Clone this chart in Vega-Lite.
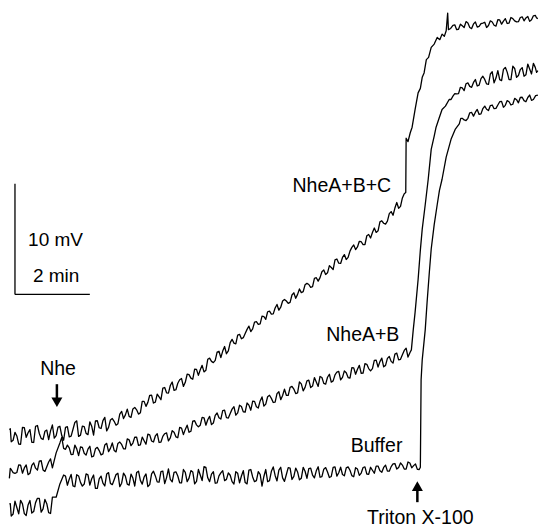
{
  "$schema": "https://vega.github.io/schema/vega-lite/v6.json",
  "width": 539,
  "height": 528,
  "autosize": {"type": "fit", "contains": "padding"},
  "padding": 0,
  "background": "white",
  "config": {"view": {"stroke": null}, "font": "Liberation Sans"},
  "datasets": {
    "traces": [
      {"s":"C","t":-0.15,"v":-12.2},{"s":"C","t":-0.1,"v":-13.3},{"s":"C","t":0,"v":-12.45},{"s":"C","t":0.1,"v":-13.5},{"s":"C","t":0.2,"v":-12.0},{"s":"C","t":0.3,"v":-12.9},{"s":"C","t":0.4,"v":-12.2},{"s":"C","t":0.5,"v":-13.36},{"s":"C","t":0.6,"v":-11.83},{"s":"C","t":0.7,"v":-12.99},{"s":"C","t":0.8,"v":-12.35},{"s":"C","t":0.9,"v":-13.11},{"s":"C","t":1.0,"v":-11.78},{"s":"C","t":1.1,"v":-12.74},{"s":"C","t":1.2,"v":-11.9},{"s":"C","t":1.3,"v":-13.16},{"s":"C","t":1.4,"v":-11.93},{"s":"C","t":1.5,"v":-12.79},{"s":"C","t":1.6,"v":-11.55},{"s":"C","t":1.7,"v":-12.81},{"s":"C","t":1.8,"v":-11.88},{"s":"C","t":1.9,"v":-12.54},{"s":"C","t":2.0,"v":-11.5},{"s":"C","t":2.1,"v":-12.7},{"s":"C","t":2.2,"v":-11.4},{"s":"C","t":2.3,"v":-12.1},{"s":"C","t":2.4,"v":-11.1},{"s":"C","t":2.5,"v":-12.0},{"s":"C","t":2.6,"v":-11.2},{"s":"C","t":2.7,"v":-11.8},{"s":"C","t":2.8,"v":-10.8},{"s":"C","t":2.9,"v":-11.2},{"s":"C","t":3.0,"v":-10.35},{"s":"C","t":3.1,"v":-11.1},{"s":"C","t":3.2,"v":-10.2},{"s":"C","t":3.3,"v":-10.8},{"s":"C","t":3.4,"v":-9.65},{"s":"C","t":3.5,"v":-10.1},{"s":"C","t":3.6,"v":-9.1},{"s":"C","t":3.7,"v":-9.8},{"s":"C","t":3.8,"v":-9.0},{"s":"C","t":3.9,"v":-9.5},{"s":"C","t":4.0,"v":-8.4},{"s":"C","t":4.1,"v":-8.9},{"s":"C","t":4.2,"v":-7.9},{"s":"C","t":4.3,"v":-8.6},{"s":"C","t":4.4,"v":-7.7},{"s":"C","t":4.5,"v":-8.3},{"s":"C","t":4.6,"v":-7.2},{"s":"C","t":4.7,"v":-7.55},{"s":"C","t":4.8,"v":-6.75},{"s":"C","t":4.9,"v":-7.3},{"s":"C","t":5.0,"v":-6.4},{"s":"C","t":5.1,"v":-6.85},{"s":"C","t":5.2,"v":-5.75},{"s":"C","t":5.3,"v":-6.15},{"s":"C","t":5.4,"v":-5.2},{"s":"C","t":5.5,"v":-5.7},{"s":"C","t":5.6,"v":-4.7},{"s":"C","t":5.7,"v":-5.1},{"s":"C","t":5.8,"v":-4.05},{"s":"C","t":5.9,"v":-4.45},{"s":"C","t":6.0,"v":-3.6},{"s":"C","t":6.1,"v":-3.9},{"s":"C","t":6.2,"v":-3.15},{"s":"C","t":6.3,"v":-3.35},{"s":"C","t":6.4,"v":-2.5},{"s":"C","t":6.5,"v":-2.7},{"s":"C","t":6.6,"v":-1.95},{"s":"C","t":6.7,"v":-2.25},{"s":"C","t":6.8,"v":-1.5},{"s":"C","t":6.9,"v":-1.75},{"s":"C","t":7.0,"v":-0.9},{"s":"C","t":7.1,"v":-1.15},{"s":"C","t":7.2,"v":-0.45},{"s":"C","t":7.3,"v":-0.8},{"s":"C","t":7.4,"v":-0.05},{"s":"C","t":7.5,"v":-0.35},{"s":"C","t":7.6,"v":0.5},{"s":"C","t":7.7,"v":0.25},{"s":"C","t":7.8,"v":1.0},{"s":"C","t":7.9,"v":0.65},{"s":"C","t":8.0,"v":1.45},{"s":"C","t":8.1,"v":1.2},{"s":"C","t":8.2,"v":2.05},{"s":"C","t":8.3,"v":1.8},{"s":"C","t":8.4,"v":2.6},{"s":"C","t":8.5,"v":2.25},{"s":"C","t":8.6,"v":3.2},{"s":"C","t":8.7,"v":2.8},{"s":"C","t":8.8,"v":3.6},{"s":"C","t":8.9,"v":3.35},{"s":"C","t":9.0,"v":4.25},{"s":"C","t":9.1,"v":4.05},{"s":"C","t":9.2,"v":4.8},{"s":"C","t":9.3,"v":4.5},{"s":"C","t":9.4,"v":5.3},{"s":"C","t":9.5,"v":5.1},{"s":"C","t":9.6,"v":6.0},{"s":"C","t":9.7,"v":5.75},{"s":"C","t":9.8,"v":6.65},{"s":"C","t":9.9,"v":6.35},{"s":"C","t":10.0,"v":7.3},{"s":"C","t":10.1,"v":7.15},{"s":"C","t":10.2,"v":8.3},{"s":"C","t":10.3,"v":7.95},{"s":"C","t":10.4,"v":9.1},{"s":"C","t":10.44,"v":9.2},{"s":"C","t":10.45,"v":14.1},{"s":"C","t":10.5,"v":13.8},{"s":"C","t":10.56,"v":14.6},{"s":"C","t":10.61,"v":15.1},{"s":"C","t":10.69,"v":16.7},{"s":"C","t":10.77,"v":18.2},{"s":"C","t":10.83,"v":18.6},{"s":"C","t":10.88,"v":19.6},{"s":"C","t":10.93,"v":20.0},{"s":"C","t":10.99,"v":21.2},{"s":"C","t":11.05,"v":21.4},{"s":"C","t":11.12,"v":22.3},{"s":"C","t":11.2,"v":22.6},{"s":"C","t":11.28,"v":23.2},{"s":"C","t":11.35,"v":23.0},{"s":"C","t":11.41,"v":23.5},{"s":"C","t":11.47,"v":23.3},{"s":"C","t":11.52,"v":23.8},{"s":"C","t":11.56,"v":25.4},{"s":"C","t":11.58,"v":23.9},{"s":"C","t":11.7,"v":24.3},{"s":"C","t":11.8,"v":23.9},{"s":"C","t":11.9,"v":24.4},{"s":"C","t":12.0,"v":24.1},{"s":"C","t":12.1,"v":24.5},{"s":"C","t":12.2,"v":24.0},{"s":"C","t":12.3,"v":24.6},{"s":"C","t":12.4,"v":24.2},{"s":"C","t":12.5,"v":24.5},{"s":"C","t":12.6,"v":24.1},{"s":"C","t":12.7,"v":24.7},{"s":"C","t":12.8,"v":24.3},{"s":"C","t":12.9,"v":24.8},{"s":"C","t":13.0,"v":24.4},{"s":"C","t":13.1,"v":24.9},{"s":"C","t":13.2,"v":24.5},{"s":"C","t":13.3,"v":24.9},{"s":"C","t":13.4,"v":24.6},{"s":"C","t":13.5,"v":25.0},{"s":"C","t":13.6,"v":24.7},{"s":"C","t":13.7,"v":25.1},{"s":"C","t":13.8,"v":24.8},{"s":"C","t":13.9,"v":25.2},{"s":"C","t":13.97,"v":24.9},
      {"s":"C","t":-0.125,"v":-12.12},{"s":"C","t":-0.05,"v":-13.16},{"s":"C","t":0.05,"v":-12.77},{"s":"C","t":0.15,"v":-13.52},{"s":"C","t":0.25,"v":-12.03},{"s":"C","t":0.35,"v":-12.48},{"s":"C","t":0.45,"v":-13.34},{"s":"C","t":0.55,"v":-11.9},{"s":"C","t":0.65,"v":-12.55},{"s":"C","t":0.75,"v":-13.09},{"s":"C","t":0.85,"v":-12.24},{"s":"C","t":0.95,"v":-12.31},{"s":"C","t":1.05,"v":-12.96},{"s":"C","t":1.15,"v":-11.97},{"s":"C","t":1.25,"v":-12.74},{"s":"C","t":1.35,"v":-11.99},{"s":"C","t":1.45,"v":-12.85},{"s":"C","t":1.55,"v":-12.17},{"s":"C","t":1.65,"v":-11.41},{"s":"C","t":1.75,"v":-12.7},{"s":"C","t":1.85,"v":-11.93},{"s":"C","t":1.95,"v":-12.65},{"s":"C","t":2.05,"v":-11.89},{"s":"C","t":2.15,"v":-11.42},{"s":"C","t":2.25,"v":-12.03},{"s":"C","t":2.35,"v":-11.39},{"s":"C","t":2.45,"v":-12.32},{"s":"C","t":2.55,"v":-11.33},{"s":"C","t":2.65,"v":-11.45},{"s":"C","t":2.75,"v":-11.66},{"s":"C","t":2.85,"v":-10.55},{"s":"C","t":2.95,"v":-10.87},{"s":"C","t":3.05,"v":-11.0},{"s":"C","t":3.15,"v":-10.33},{"s":"C","t":3.25,"v":-10.41},{"s":"C","t":3.35,"v":-10.68},{"s":"C","t":3.45,"v":-9.65},{"s":"C","t":3.55,"v":-9.74},{"s":"C","t":3.65,"v":-9.09},{"s":"C","t":3.75,"v":-9.72},{"s":"C","t":3.85,"v":-9.25},{"s":"C","t":3.95,"v":-8.45},{"s":"C","t":4.05,"v":-8.88},{"s":"C","t":4.15,"v":-8.22},{"s":"C","t":4.25,"v":-8.66},{"s":"C","t":4.35,"v":-8.01},{"s":"C","t":4.45,"v":-7.59},{"s":"C","t":4.55,"v":-7.93},{"s":"C","t":4.65,"v":-7.24},{"s":"C","t":4.75,"v":-7.65},{"s":"C","t":4.85,"v":-6.76},{"s":"C","t":4.95,"v":-6.8},{"s":"C","t":5.05,"v":-6.99},{"s":"C","t":5.15,"v":-5.85},{"s":"C","t":5.25,"v":-6.04},{"s":"C","t":5.35,"v":-5.95},{"s":"C","t":5.45,"v":-5.13},{"s":"C","t":5.55,"v":-5.11},{"s":"C","t":5.65,"v":-5.35},{"s":"C","t":5.75,"v":-4.35},{"s":"C","t":5.85,"v":-4.39},{"s":"C","t":5.95,"v":-3.67},{"s":"C","t":6.05,"v":-4.0},{"s":"C","t":6.15,"v":-3.53},{"s":"C","t":6.25,"v":-2.86},{"s":"C","t":6.35,"v":-3.11},{"s":"C","t":6.45,"v":-2.46},{"s":"C","t":6.55,"v":-2.65},{"s":"C","t":6.65,"v":-1.99},{"s":"C","t":6.75,"v":-1.56},{"s":"C","t":6.85,"v":-1.77},{"s":"C","t":6.95,"v":-1.22},{"s":"C","t":7.05,"v":-1.42},{"s":"C","t":7.15,"v":-0.59},{"s":"C","t":7.25,"v":-0.59},{"s":"C","t":7.35,"v":-0.71},{"s":"C","t":7.45,"v":0.15},{"s":"C","t":7.55,"v":0.01},{"s":"C","t":7.65,"v":0.17},{"s":"C","t":7.75,"v":0.88},{"s":"C","t":7.85,"v":0.9},{"s":"C","t":7.95,"v":0.7},{"s":"C","t":8.05,"v":1.51},{"s":"C","t":8.15,"v":1.52},{"s":"C","t":8.25,"v":2.21},{"s":"C","t":8.35,"v":1.95},{"s":"C","t":8.45,"v":2.43},{"s":"C","t":8.55,"v":3.12},{"s":"C","t":8.65,"v":2.82},{"s":"C","t":8.75,"v":3.34},{"s":"C","t":8.85,"v":3.16},{"s":"C","t":8.95,"v":3.91},{"s":"C","t":9.05,"v":4.47},{"s":"C","t":9.15,"v":4.29},{"s":"C","t":9.25,"v":4.76},{"s":"C","t":9.35,"v":4.51},{"s":"C","t":9.45,"v":5.41},{"s":"C","t":9.55,"v":5.59},{"s":"C","t":9.65,"v":5.6},{"s":"C","t":9.75,"v":6.55},{"s":"C","t":9.85,"v":6.43},{"s":"C","t":9.95,"v":6.62},{"s":"C","t":10.05,"v":7.48},{"s":"C","t":10.15,"v":7.8},{"s":"C","t":10.25,"v":7.78},{"s":"C","t":10.35,"v":8.71},
      {"s":"C","t":11.64,"v":24.01},{"s":"C","t":11.75,"v":24.34},{"s":"C","t":11.85,"v":23.94},{"s":"C","t":11.95,"v":24.25},{"s":"C","t":12.05,"v":24.63},{"s":"C","t":12.15,"v":24.1},{"s":"C","t":12.25,"v":24.42},{"s":"C","t":12.35,"v":24.13},{"s":"C","t":12.45,"v":24.44},{"s":"C","t":12.55,"v":24.57},{"s":"C","t":12.65,"v":24.28},{"s":"C","t":12.75,"v":24.59},{"s":"C","t":12.85,"v":24.22},{"s":"C","t":12.95,"v":24.78},{"s":"C","t":13.05,"v":24.68},{"s":"C","t":13.15,"v":24.46},{"s":"C","t":13.25,"v":25.0},{"s":"C","t":13.35,"v":24.69},{"s":"C","t":13.45,"v":24.62},{"s":"C","t":13.55,"v":25.06},{"s":"C","t":13.65,"v":24.96},{"s":"C","t":13.75,"v":24.65},{"s":"C","t":13.85,"v":25.15},{"s":"C","t":13.935,"v":24.96},

      {"s":"B","t":-0.15,"v":-16.6},{"s":"B","t":-0.1,"v":-15.8},{"s":"B","t":0,"v":-16.15},{"s":"B","t":0.1,"v":-15.38},{"s":"B","t":0.2,"v":-16.13},{"s":"B","t":0.3,"v":-15.39},{"s":"B","t":0.4,"v":-16.14},{"s":"B","t":0.5,"v":-15.2},{"s":"B","t":0.6,"v":-15.86},{"s":"B","t":0.7,"v":-15.01},{"s":"B","t":0.8,"v":-15.97},{"s":"B","t":0.9,"v":-15.12},{"s":"B","t":1.0,"v":-15.65},{"s":"B","t":1.1,"v":-14.3},{"s":"B","t":1.2,"v":-13.4},{"s":"B","t":1.25,"v":-12.9},{"s":"B","t":1.3,"v":-13.9},{"s":"B","t":1.4,"v":-13.6},{"s":"B","t":1.5,"v":-14.45},{"s":"B","t":1.6,"v":-13.6},{"s":"B","t":1.7,"v":-14.55},{"s":"B","t":1.8,"v":-13.8},{"s":"B","t":1.9,"v":-14.5},{"s":"B","t":2.0,"v":-13.7},{"s":"B","t":2.1,"v":-14.6},{"s":"B","t":2.2,"v":-13.8},{"s":"B","t":2.3,"v":-14.48},{"s":"B","t":2.4,"v":-13.58},{"s":"B","t":2.5,"v":-14.19},{"s":"B","t":2.6,"v":-13.4},{"s":"B","t":2.7,"v":-14.21},{"s":"B","t":2.8,"v":-13.32},{"s":"B","t":2.9,"v":-13.93},{"s":"B","t":3.0,"v":-13.04},{"s":"B","t":3.1,"v":-13.65},{"s":"B","t":3.2,"v":-12.88},{"s":"B","t":3.3,"v":-13.62},{"s":"B","t":3.4,"v":-12.87},{"s":"B","t":3.5,"v":-13.52},{"s":"B","t":3.6,"v":-12.67},{"s":"B","t":3.7,"v":-13.32},{"s":"B","t":3.8,"v":-12.57},{"s":"B","t":3.9,"v":-13.32},{"s":"B","t":4.0,"v":-12.57},{"s":"B","t":4.1,"v":-13.22},{"s":"B","t":4.2,"v":-12.3},{"s":"B","t":4.3,"v":-12.85},{"s":"B","t":4.4,"v":-12.0},{"s":"B","t":4.5,"v":-12.65},{"s":"B","t":4.6,"v":-11.8},{"s":"B","t":4.7,"v":-12.35},{"s":"B","t":4.8,"v":-11.4},{"s":"B","t":4.9,"v":-11.95},{"s":"B","t":5.0,"v":-11.1},{"s":"B","t":5.1,"v":-11.8},{"s":"B","t":5.2,"v":-11.0},{"s":"B","t":5.3,"v":-11.6},{"s":"B","t":5.4,"v":-10.7},{"s":"B","t":5.5,"v":-11.25},{"s":"B","t":5.6,"v":-10.45},{"s":"B","t":5.7,"v":-11.15},{"s":"B","t":5.8,"v":-10.35},{"s":"B","t":5.9,"v":-10.9},{"s":"B","t":6.0,"v":-10.0},{"s":"B","t":6.1,"v":-10.6},{"s":"B","t":6.2,"v":-9.8},{"s":"B","t":6.3,"v":-10.45},{"s":"B","t":6.4,"v":-9.65},{"s":"B","t":6.5,"v":-10.25},{"s":"B","t":6.6,"v":-9.25},{"s":"B","t":6.7,"v":-9.9},{"s":"B","t":6.8,"v":-9.1},{"s":"B","t":6.9,"v":-9.75},{"s":"B","t":7.0,"v":-8.95},{"s":"B","t":7.1,"v":-9.5},{"s":"B","t":7.2,"v":-8.55},{"s":"B","t":7.3,"v":-9.1},{"s":"B","t":7.4,"v":-8.3},{"s":"B","t":7.5,"v":-8.95},{"s":"B","t":7.6,"v":-7.9},{"s":"B","t":7.7,"v":-8.7},{"s":"B","t":7.8,"v":-7.8},{"s":"B","t":7.9,"v":-8.4},{"s":"B","t":8.0,"v":-7.5},{"s":"B","t":8.1,"v":-8.3},{"s":"B","t":8.2,"v":-7.5},{"s":"B","t":8.3,"v":-8.1},{"s":"B","t":8.4,"v":-7.2},{"s":"B","t":8.5,"v":-7.8},{"s":"B","t":8.6,"v":-7.0},{"s":"B","t":8.7,"v":-7.7},{"s":"B","t":8.8,"v":-6.9},{"s":"B","t":8.9,"v":-7.5},{"s":"B","t":9.0,"v":-6.6},{"s":"B","t":9.1,"v":-7.2},{"s":"B","t":9.2,"v":-6.4},{"s":"B","t":9.3,"v":-7.1},{"s":"B","t":9.4,"v":-6.3},{"s":"B","t":9.5,"v":-6.9},{"s":"B","t":9.6,"v":-5.95},{"s":"B","t":9.7,"v":-6.55},{"s":"B","t":9.8,"v":-5.75},{"s":"B","t":9.9,"v":-6.4},{"s":"B","t":10.0,"v":-5.6},{"s":"B","t":10.1,"v":-6.2},{"s":"B","t":10.2,"v":-5.3},{"s":"B","t":10.3,"v":-5.85},{"s":"B","t":10.4,"v":-5.05},{"s":"B","t":10.5,"v":-5.65},{"s":"B","t":10.56,"v":-5.2},{"s":"B","t":10.59,"v":-5.0},{"s":"B","t":10.64,"v":-3.2},{"s":"B","t":10.69,"v":-1.6},{"s":"B","t":10.77,"v":1.35},{"s":"B","t":10.83,"v":4.0},{"s":"B","t":10.88,"v":5.9},{"s":"B","t":10.96,"v":8.1},{"s":"B","t":11.04,"v":10.4},{"s":"B","t":11.12,"v":13.1},{"s":"B","t":11.2,"v":14.3},{"s":"B","t":11.25,"v":15.1},{"s":"B","t":11.33,"v":15.9},{"s":"B","t":11.41,"v":16.7},{"s":"B","t":11.5,"v":17.0},{"s":"B","t":11.6,"v":17.6},{"s":"B","t":11.7,"v":17.9},{"s":"B","t":11.8,"v":18.1},{"s":"B","t":11.9,"v":18.7},{"s":"B","t":12.0,"v":18.4},{"s":"B","t":12.1,"v":19.1},{"s":"B","t":12.2,"v":18.7},{"s":"B","t":12.3,"v":19.4},{"s":"B","t":12.4,"v":18.9},{"s":"B","t":12.5,"v":19.7},{"s":"B","t":12.6,"v":19.0},{"s":"B","t":12.7,"v":19.9},{"s":"B","t":12.8,"v":19.1},{"s":"B","t":12.9,"v":20.2},{"s":"B","t":13.0,"v":19.3},{"s":"B","t":13.1,"v":20.5},{"s":"B","t":13.2,"v":19.4},{"s":"B","t":13.3,"v":20.6},{"s":"B","t":13.4,"v":19.6},{"s":"B","t":13.5,"v":20.3},{"s":"B","t":13.6,"v":19.7},{"s":"B","t":13.7,"v":20.8},{"s":"B","t":13.8,"v":19.9},{"s":"B","t":13.9,"v":20.5},{"s":"B","t":13.97,"v":20.2},
      {"s":"B","t":-0.125,"v":-15.7},{"s":"B","t":-0.05,"v":-16.08},{"s":"B","t":0.05,"v":-16.07},{"s":"B","t":0.15,"v":-15.41},{"s":"B","t":0.25,"v":-15.66},{"s":"B","t":0.35,"v":-16.27},{"s":"B","t":0.45,"v":-15.42},{"s":"B","t":0.55,"v":-15.68},{"s":"B","t":0.65,"v":-15.04},{"s":"B","t":0.75,"v":-15.84},{"s":"B","t":0.85,"v":-15.55},{"s":"B","t":0.95,"v":-14.84},{"s":"B","t":1.35,"v":-13.98},{"s":"B","t":1.45,"v":-13.85},{"s":"B","t":1.55,"v":-14.44},{"s":"B","t":1.65,"v":-13.94},{"s":"B","t":1.75,"v":-13.77},{"s":"B","t":1.85,"v":-14.33},{"s":"B","t":1.95,"v":-13.96},{"s":"B","t":2.05,"v":-14.65},{"s":"B","t":2.15,"v":-13.93},{"s":"B","t":2.25,"v":-14.09},{"s":"B","t":2.35,"v":-14.39},{"s":"B","t":2.45,"v":-13.44},{"s":"B","t":2.55,"v":-13.89},{"s":"B","t":2.65,"v":-14.08},{"s":"B","t":2.75,"v":-13.45},{"s":"B","t":2.85,"v":-13.54},{"s":"B","t":2.95,"v":-13.94},{"s":"B","t":3.05,"v":-13.12},{"s":"B","t":3.15,"v":-13.41},{"s":"B","t":3.25,"v":-12.89},{"s":"B","t":3.35,"v":-13.57},{"s":"B","t":3.45,"v":-13.2},{"s":"B","t":3.55,"v":-12.6},{"s":"B","t":3.65,"v":-13.23},{"s":"B","t":3.75,"v":-12.77},{"s":"B","t":3.85,"v":-13.36},{"s":"B","t":3.95,"v":-12.81},{"s":"B","t":4.05,"v":-12.49},{"s":"B","t":4.15,"v":-12.94},{"s":"B","t":4.25,"v":-12.44},{"s":"B","t":4.35,"v":-12.93},{"s":"B","t":4.45,"v":-12.06},{"s":"B","t":4.55,"v":-12.18},{"s":"B","t":4.65,"v":-12.44},{"s":"B","t":4.75,"v":-11.43},{"s":"B","t":4.85,"v":-11.77},{"s":"B","t":4.95,"v":-11.8},{"s":"B","t":5.05,"v":-11.13},{"s":"B","t":5.15,"v":-11.31},{"s":"B","t":5.25,"v":-11.75},{"s":"B","t":5.35,"v":-10.92},{"s":"B","t":5.45,"v":-11.12},{"s":"B","t":5.55,"v":-10.49},{"s":"B","t":5.65,"v":-11.12},{"s":"B","t":5.75,"v":-10.75},{"s":"B","t":5.85,"v":-10.13},{"s":"B","t":5.95,"v":-10.68},{"s":"B","t":6.05,"v":-10.12},{"s":"B","t":6.15,"v":-10.61},{"s":"B","t":6.25,"v":-9.99},{"s":"B","t":6.35,"v":-9.64},{"s":"B","t":6.45,"v":-10.13},{"s":"B","t":6.55,"v":-9.61},{"s":"B","t":6.65,"v":-10.08},{"s":"B","t":6.75,"v":-9.23},{"s":"B","t":6.85,"v":-9.38},{"s":"B","t":6.95,"v":-9.71},{"s":"B","t":7.05,"v":-8.78},{"s":"B","t":7.15,"v":-9.12},{"s":"B","t":7.25,"v":-9.1},{"s":"B","t":7.35,"v":-8.38},{"s":"B","t":7.45,"v":-8.54},{"s":"B","t":7.55,"v":-8.88},{"s":"B","t":7.65,"v":-8.07},{"s":"B","t":7.75,"v":-8.39},{"s":"B","t":7.85,"v":-7.74},{"s":"B","t":7.95,"v":-8.27},{"s":"B","t":8.05,"v":-7.9},{"s":"B","t":8.15,"v":-7.4},{"s":"B","t":8.25,"v":-8.03},{"s":"B","t":8.35,"v":-7.47},{"s":"B","t":8.45,"v":-7.91},{"s":"B","t":8.55,"v":-7.26},{"s":"B","t":8.65,"v":-6.94},{"s":"B","t":8.75,"v":-7.48},{"s":"B","t":8.85,"v":-7.06},{"s":"B","t":8.95,"v":-7.55},{"s":"B","t":9.05,"v":-6.63},{"s":"B","t":9.15,"v":-6.75},{"s":"B","t":9.25,"v":-7.11},{"s":"B","t":9.35,"v":-6.25},{"s":"B","t":9.45,"v":-6.69},{"s":"B","t":9.55,"v":-6.7},{"s":"B","t":9.65,"v":-5.93},{"s":"B","t":9.75,"v":-6.06},{"s":"B","t":9.85,"v":-6.53},{"s":"B","t":9.95,"v":-5.77},{"s":"B","t":10.05,"v":-6.04},{"s":"B","t":10.15,"v":-5.39},{"s":"B","t":10.25,"v":-5.9},{"s":"B","t":10.35,"v":-5.45},{"s":"B","t":10.45,"v":-4.85},
      {"s":"B","t":11.65,"v":17.6},{"s":"B","t":11.75,"v":18.12},{"s":"B","t":11.85,"v":18.13},{"s":"B","t":11.95,"v":18.64},{"s":"B","t":12.05,"v":19.02},{"s":"B","t":12.15,"v":18.78},{"s":"B","t":12.25,"v":19.14},{"s":"B","t":12.35,"v":18.82},{"s":"B","t":12.45,"v":19.48},{"s":"B","t":12.55,"v":19.41},{"s":"B","t":12.65,"v":18.97},{"s":"B","t":12.75,"v":20.1},{"s":"B","t":12.85,"v":19.53},{"s":"B","t":12.95,"v":19.39},{"s":"B","t":13.05,"v":20.32},{"s":"B","t":13.15,"v":20.07},{"s":"B","t":13.25,"v":19.4},{"s":"B","t":13.35,"v":20.4},{"s":"B","t":13.45,"v":19.77},{"s":"B","t":13.55,"v":20.48},{"s":"B","t":13.65,"v":19.83},{"s":"B","t":13.75,"v":20.35},{"s":"B","t":13.85,"v":20.86},{"s":"B","t":13.935,"v":20.05},

      {"s":"A","t":-0.15,"v":-18.9},{"s":"A","t":-0.1,"v":-20.0},{"s":"A","t":0,"v":-18.65},{"s":"A","t":0.1,"v":-19.8},{"s":"A","t":0.2,"v":-18.9},{"s":"A","t":0.3,"v":-19.95},{"s":"A","t":0.4,"v":-18.6},{"s":"A","t":0.5,"v":-19.6},{"s":"A","t":0.6,"v":-18.4},{"s":"A","t":0.7,"v":-19.65},{"s":"A","t":0.8,"v":-18.5},{"s":"A","t":0.9,"v":-19.7},{"s":"A","t":1.0,"v":-18.3},{"s":"A","t":1.1,"v":-18.3},{"s":"A","t":1.2,"v":-17.1},{"s":"A","t":1.3,"v":-16.3},{"s":"A","t":1.4,"v":-17.22},{"s":"A","t":1.5,"v":-16.24},{"s":"A","t":1.6,"v":-17.36},{"s":"A","t":1.7,"v":-16.38},{"s":"A","t":1.8,"v":-17.3},{"s":"A","t":1.9,"v":-16.2},{"s":"A","t":2.0,"v":-17.2},{"s":"A","t":2.1,"v":-16.3},{"s":"A","t":2.2,"v":-17.5},{"s":"A","t":2.3,"v":-16.4},{"s":"A","t":2.4,"v":-17.29},{"s":"A","t":2.5,"v":-16.08},{"s":"A","t":2.6,"v":-17.17},{"s":"A","t":2.7,"v":-16.26},{"s":"A","t":2.8,"v":-17.34},{"s":"A","t":2.9,"v":-16.13},{"s":"A","t":3.0,"v":-17.12},{"s":"A","t":3.1,"v":-16.21},{"s":"A","t":3.2,"v":-17.29},{"s":"A","t":3.3,"v":-15.95},{"s":"A","t":3.4,"v":-17.12},{"s":"A","t":3.5,"v":-16.2},{"s":"A","t":3.6,"v":-17.17},{"s":"A","t":3.7,"v":-15.95},{"s":"A","t":3.8,"v":-16.92},{"s":"A","t":3.9,"v":-16.0},{"s":"A","t":4.0,"v":-17.07},{"s":"A","t":4.1,"v":-15.75},{"s":"A","t":4.2,"v":-16.92},{"s":"A","t":4.3,"v":-16.01},{"s":"A","t":4.4,"v":-17.0},{"s":"A","t":4.5,"v":-15.8},{"s":"A","t":4.6,"v":-16.9},{"s":"A","t":4.7,"v":-15.9},{"s":"A","t":4.8,"v":-17.1},{"s":"A","t":4.9,"v":-15.8},{"s":"A","t":5.0,"v":-16.8},{"s":"A","t":5.1,"v":-15.6},{"s":"A","t":5.2,"v":-16.9},{"s":"A","t":5.3,"v":-16.0},{"s":"A","t":5.4,"v":-17.0},{"s":"A","t":5.5,"v":-16.1},{"s":"A","t":5.6,"v":-16.8},{"s":"A","t":5.7,"v":-16.1},{"s":"A","t":5.8,"v":-16.9},{"s":"A","t":5.9,"v":-16.0},{"s":"A","t":6.0,"v":-17.0},{"s":"A","t":6.1,"v":-15.9},{"s":"A","t":6.2,"v":-17.1},{"s":"A","t":6.3,"v":-15.8},{"s":"A","t":6.4,"v":-16.9},{"s":"A","t":6.5,"v":-16.0},{"s":"A","t":6.6,"v":-17.3},{"s":"A","t":6.7,"v":-15.8},{"s":"A","t":6.8,"v":-16.8},{"s":"A","t":6.9,"v":-15.57},{"s":"A","t":7.0,"v":-16.83},{"s":"A","t":7.1,"v":-15.6},{"s":"A","t":7.2,"v":-16.87},{"s":"A","t":7.3,"v":-15.63},{"s":"A","t":7.4,"v":-16.7},{"s":"A","t":7.5,"v":-15.67},{"s":"A","t":7.6,"v":-16.73},{"s":"A","t":7.7,"v":-15.6},{"s":"A","t":7.8,"v":-16.59},{"s":"A","t":7.9,"v":-15.68},{"s":"A","t":8.0,"v":-16.56},{"s":"A","t":8.1,"v":-15.55},{"s":"A","t":8.2,"v":-16.44},{"s":"A","t":8.3,"v":-15.63},{"s":"A","t":8.4,"v":-16.52},{"s":"A","t":8.5,"v":-15.61},{"s":"A","t":8.6,"v":-16.4},{"s":"A","t":8.7,"v":-15.59},{"s":"A","t":8.8,"v":-16.37},{"s":"A","t":8.9,"v":-15.56},{"s":"A","t":9.0,"v":-16.35},{"s":"A","t":9.1,"v":-15.64},{"s":"A","t":9.2,"v":-16.33},{"s":"A","t":9.3,"v":-15.62},{"s":"A","t":9.4,"v":-16.21},{"s":"A","t":9.5,"v":-15.6},{"s":"A","t":9.6,"v":-16.14},{"s":"A","t":9.7,"v":-15.49},{"s":"A","t":9.8,"v":-16.05},{"s":"A","t":9.9,"v":-15.4},{"s":"A","t":10.0,"v":-15.95},{"s":"A","t":10.1,"v":-15.3},{"s":"A","t":10.2,"v":-15.76},{"s":"A","t":10.3,"v":-15.21},{"s":"A","t":10.4,"v":-15.76},{"s":"A","t":10.5,"v":-15.12},{"s":"A","t":10.6,"v":-15.65},{"s":"A","t":10.7,"v":-15.3},{"s":"A","t":10.8,"v":-15.8},{"s":"A","t":10.83,"v":-15.6},{"s":"A","t":10.85,"v":-7.7},{"s":"A","t":10.88,"v":-5.9},{"s":"A","t":10.96,"v":-3.2},{"s":"A","t":11.01,"v":-0.7},{"s":"A","t":11.07,"v":2.0},{"s":"A","t":11.12,"v":4.1},{"s":"A","t":11.2,"v":6.3},{"s":"A","t":11.28,"v":8.1},{"s":"A","t":11.34,"v":9.4},{"s":"A","t":11.41,"v":10.4},{"s":"A","t":11.52,"v":12.4},{"s":"A","t":11.65,"v":14.0},{"s":"A","t":11.76,"v":14.9},{"s":"A","t":11.87,"v":15.4},{"s":"A","t":11.95,"v":15.9},{"s":"A","t":12.05,"v":15.7},{"s":"A","t":12.15,"v":16.4},{"s":"A","t":12.25,"v":16.1},{"s":"A","t":12.35,"v":16.7},{"s":"A","t":12.45,"v":16.3},{"s":"A","t":12.55,"v":17.0},{"s":"A","t":12.65,"v":16.6},{"s":"A","t":12.75,"v":17.1},{"s":"A","t":12.85,"v":16.8},{"s":"A","t":12.95,"v":17.4},{"s":"A","t":13.05,"v":16.9},{"s":"A","t":13.15,"v":17.5},{"s":"A","t":13.25,"v":17.1},{"s":"A","t":13.35,"v":17.7},{"s":"A","t":13.45,"v":17.3},{"s":"A","t":13.55,"v":17.8},{"s":"A","t":13.65,"v":17.4},{"s":"A","t":13.75,"v":18.0},{"s":"A","t":13.85,"v":17.6},{"s":"A","t":13.97,"v":18.0},
      {"s":"A","t":-0.125,"v":-18.89},{"s":"A","t":-0.05,"v":-19.82},{"s":"A","t":0.05,"v":-19.23},{"s":"A","t":0.15,"v":-18.58},{"s":"A","t":0.25,"v":-19.78},{"s":"A","t":0.35,"v":-19.0},{"s":"A","t":0.45,"v":-19.73},{"s":"A","t":0.55,"v":-18.79},{"s":"A","t":0.65,"v":-18.4},{"s":"A","t":0.75,"v":-19.36},{"s":"A","t":0.85,"v":-18.89},{"s":"A","t":0.95,"v":-19.77},{"s":"A","t":1.35,"v":-16.4},{"s":"A","t":1.45,"v":-16.67},{"s":"A","t":1.55,"v":-17.28},{"s":"A","t":1.65,"v":-16.27},{"s":"A","t":1.75,"v":-16.96},{"s":"A","t":1.85,"v":-17.11},{"s":"A","t":1.95,"v":-16.28},{"s":"A","t":2.05,"v":-16.63},{"s":"A","t":2.15,"v":-17.5},{"s":"A","t":2.25,"v":-16.65},{"s":"A","t":2.35,"v":-17.03},{"s":"A","t":2.45,"v":-16.21},{"s":"A","t":2.55,"v":-17.05},{"s":"A","t":2.65,"v":-16.72},{"s":"A","t":2.75,"v":-16.14},{"s":"A","t":2.85,"v":-17.04},{"s":"A","t":2.95,"v":-16.39},{"s":"A","t":3.05,"v":-17.21},{"s":"A","t":3.15,"v":-16.57},{"s":"A","t":3.25,"v":-16.08},{"s":"A","t":3.35,"v":-16.78},{"s":"A","t":3.45,"v":-16.48},{"s":"A","t":3.55,"v":-17.35},{"s":"A","t":3.65,"v":-16.2},{"s":"A","t":3.75,"v":-16.38},{"s":"A","t":3.85,"v":-16.94},{"s":"A","t":3.95,"v":-15.94},{"s":"A","t":4.05,"v":-16.53},{"s":"A","t":4.15,"v":-16.7},{"s":"A","t":4.25,"v":-16.05},{"s":"A","t":4.35,"v":-16.39},{"s":"A","t":4.45,"v":-17.0},{"s":"A","t":4.55,"v":-16.05},{"s":"A","t":4.65,"v":-16.58},{"s":"A","t":4.75,"v":-16.02},{"s":"A","t":4.85,"v":-16.87},{"s":"A","t":4.95,"v":-16.3},{"s":"A","t":5.05,"v":-15.54},{"s":"A","t":5.15,"v":-16.55},{"s":"A","t":5.25,"v":-16.21},{"s":"A","t":5.35,"v":-17.04},{"s":"A","t":5.45,"v":-16.37},{"s":"A","t":5.55,"v":-15.91},{"s":"A","t":5.65,"v":-16.69},{"s":"A","t":5.75,"v":-16.32},{"s":"A","t":5.85,"v":-17.11},{"s":"A","t":5.95,"v":-16.14},{"s":"A","t":6.05,"v":-16.39},{"s":"A","t":6.15,"v":-16.98},{"s":"A","t":6.25,"v":-15.85},{"s":"A","t":6.35,"v":-16.47},{"s":"A","t":6.45,"v":-16.81},{"s":"A","t":6.55,"v":-16.23},{"s":"A","t":6.65,"v":-16.43},{"s":"A","t":6.75,"v":-16.9},{"s":"A","t":6.85,"v":-15.96},{"s":"A","t":6.95,"v":-16.34},{"s":"A","t":7.05,"v":-15.86},{"s":"A","t":7.15,"v":-16.56},{"s":"A","t":7.25,"v":-16.25},{"s":"A","t":7.35,"v":-15.67},{"s":"A","t":7.45,"v":-16.42},{"s":"A","t":7.55,"v":-16.02},{"s":"A","t":7.65,"v":-16.58},{"s":"A","t":7.75,"v":-15.96},{"s":"A","t":7.85,"v":-15.73},{"s":"A","t":7.95,"v":-16.3},{"s":"A","t":8.05,"v":-15.92},{"s":"A","t":8.15,"v":-16.5},{"s":"A","t":8.25,"v":-15.77},{"s":"A","t":8.35,"v":-16.03},{"s":"A","t":8.45,"v":-16.43},{"s":"A","t":8.55,"v":-15.56},{"s":"A","t":8.65,"v":-16.09},{"s":"A","t":8.75,"v":-16.25},{"s":"A","t":8.85,"v":-15.65},{"s":"A","t":8.95,"v":-15.87},{"s":"A","t":9.05,"v":-16.45},{"s":"A","t":9.15,"v":-15.76},{"s":"A","t":9.25,"v":-16.12},{"s":"A","t":9.35,"v":-15.56},{"s":"A","t":9.45,"v":-16.23},{"s":"A","t":9.55,"v":-15.87},{"s":"A","t":9.65,"v":-15.49},{"s":"A","t":9.75,"v":-15.92},{"s":"A","t":9.85,"v":-15.61},{"s":"A","t":9.95,"v":-15.95},{"s":"A","t":10.05,"v":-15.54},{"s":"A","t":10.15,"v":-15.26},{"s":"A","t":10.25,"v":-15.61},{"s":"A","t":10.35,"v":-15.4},{"s":"A","t":10.45,"v":-15.77},{"s":"A","t":10.55,"v":-15.21},{"s":"A","t":10.65,"v":-15.45},{"s":"A","t":10.75,"v":-15.79},
      {"s":"A","t":11.91,"v":15.9},{"s":"A","t":12.0,"v":15.75},{"s":"A","t":12.1,"v":15.9},{"s":"A","t":12.2,"v":16.43},{"s":"A","t":12.3,"v":16.45},{"s":"A","t":12.4,"v":16.25},{"s":"A","t":12.5,"v":16.78},{"s":"A","t":12.6,"v":16.72},{"s":"A","t":12.7,"v":17.05},{"s":"A","t":12.8,"v":16.77},{"s":"A","t":12.9,"v":17.1},{"s":"A","t":13.0,"v":17.43},{"s":"A","t":13.1,"v":17.07},{"s":"A","t":13.2,"v":17.4},{"s":"A","t":13.3,"v":17.17},{"s":"A","t":13.4,"v":17.58},{"s":"A","t":13.5,"v":17.78},{"s":"A","t":13.6,"v":17.5},{"s":"A","t":13.7,"v":17.78},{"s":"A","t":13.8,"v":17.52},{"s":"A","t":13.91,"v":17.95}
    ],
    "scalebar": [
      {"t": 0, "v": 0, "t2": 0, "v2": 10},
      {"t": 0, "v": 0, "t2": 2, "v2": 0}
    ],
    "labelsRight": [
      {"label": "NheA+B+C", "t": 10.05, "v": 9.28},
      {"label": "NheA+B", "t": 10.27, "v": -4.23},
      {"label": "Buffer", "t": 10.35, "v": -14.23}
    ],
    "labelsLeft": [
      {"label": "10 mV", "t": 0.35, "v": 4.4},
      {"label": "2 min", "t": 0.48, "v": 1.1}
    ],
    "labelsCenter": [
      {"label": "Nhe", "t": 1.15, "v": -7.3},
      {"label": "Triton X-100", "t": 10.83, "v": -20.7}
    ],
    "shafts": [
      {"t": 1.12, "v": -8.1, "v2": -9.4},
      {"t": 10.75, "v": -17.7, "v2": -18.75}
    ],
    "headDown": [{"t": 1.12, "v": -9.73}],
    "headUp": [{"t": 10.75, "v": -17.3}]
  },
  "layer": [
    {
      "data": {"name": "traces"},
      "mark": {"type": "line", "stroke": "black", "strokeWidth": 1.3, "strokeJoin": "round"},
      "encoding": {
        "x": {"field": "t", "type": "quantitative", "scale": {"domain": [-0.4, 13.973], "nice": false, "zero": false}, "axis": null},
        "y": {"field": "v", "type": "quantitative", "scale": {"domain": [-20.99, 26.58], "nice": false, "zero": false}, "axis": null},
        "detail": {"field": "s", "type": "nominal"}
      }
    },
    {
      "data": {"name": "scalebar"},
      "mark": {"type": "rule", "stroke": "black", "strokeWidth": 1.3},
      "encoding": {
        "x": {"field": "t", "type": "quantitative"},
        "y": {"field": "v", "type": "quantitative"},
        "x2": {"field": "t2"},
        "y2": {"field": "v2"}
      }
    },
    {
      "data": {"name": "shafts"},
      "mark": {"type": "rule", "stroke": "black", "strokeWidth": 2.5},
      "encoding": {
        "x": {"field": "t", "type": "quantitative"},
        "y": {"field": "v", "type": "quantitative"},
        "y2": {"field": "v2"}
      }
    },
    {
      "data": {"name": "headDown"},
      "mark": {"type": "point", "shape": "triangle-down", "filled": true, "fill": "black", "stroke": null, "size": 121, "opacity": 1},
      "encoding": {
        "x": {"field": "t", "type": "quantitative"},
        "y": {"field": "v", "type": "quantitative"}
      }
    },
    {
      "data": {"name": "headUp"},
      "mark": {"type": "point", "shape": "triangle-up", "filled": true, "fill": "black", "stroke": null, "size": 121, "opacity": 1},
      "encoding": {
        "x": {"field": "t", "type": "quantitative"},
        "y": {"field": "v", "type": "quantitative"}
      }
    },
    {
      "data": {"name": "labelsRight"},
      "mark": {"type": "text", "align": "right", "baseline": "alphabetic", "fontSize": 19.5, "font": "Liberation Sans", "fill": "black"},
      "encoding": {
        "x": {"field": "t", "type": "quantitative"},
        "y": {"field": "v", "type": "quantitative"},
        "text": {"field": "label"}
      }
    },
    {
      "data": {"name": "labelsLeft"},
      "mark": {"type": "text", "align": "left", "baseline": "alphabetic", "fontSize": 19, "font": "Liberation Sans", "fill": "black"},
      "encoding": {
        "x": {"field": "t", "type": "quantitative"},
        "y": {"field": "v", "type": "quantitative"},
        "text": {"field": "label"}
      }
    },
    {
      "data": {"name": "labelsCenter"},
      "mark": {"type": "text", "align": "center", "baseline": "alphabetic", "fontSize": 19.5, "font": "Liberation Sans", "fill": "black"},
      "encoding": {
        "x": {"field": "t", "type": "quantitative"},
        "y": {"field": "v", "type": "quantitative"},
        "text": {"field": "label"}
      }
    }
  ]
}
